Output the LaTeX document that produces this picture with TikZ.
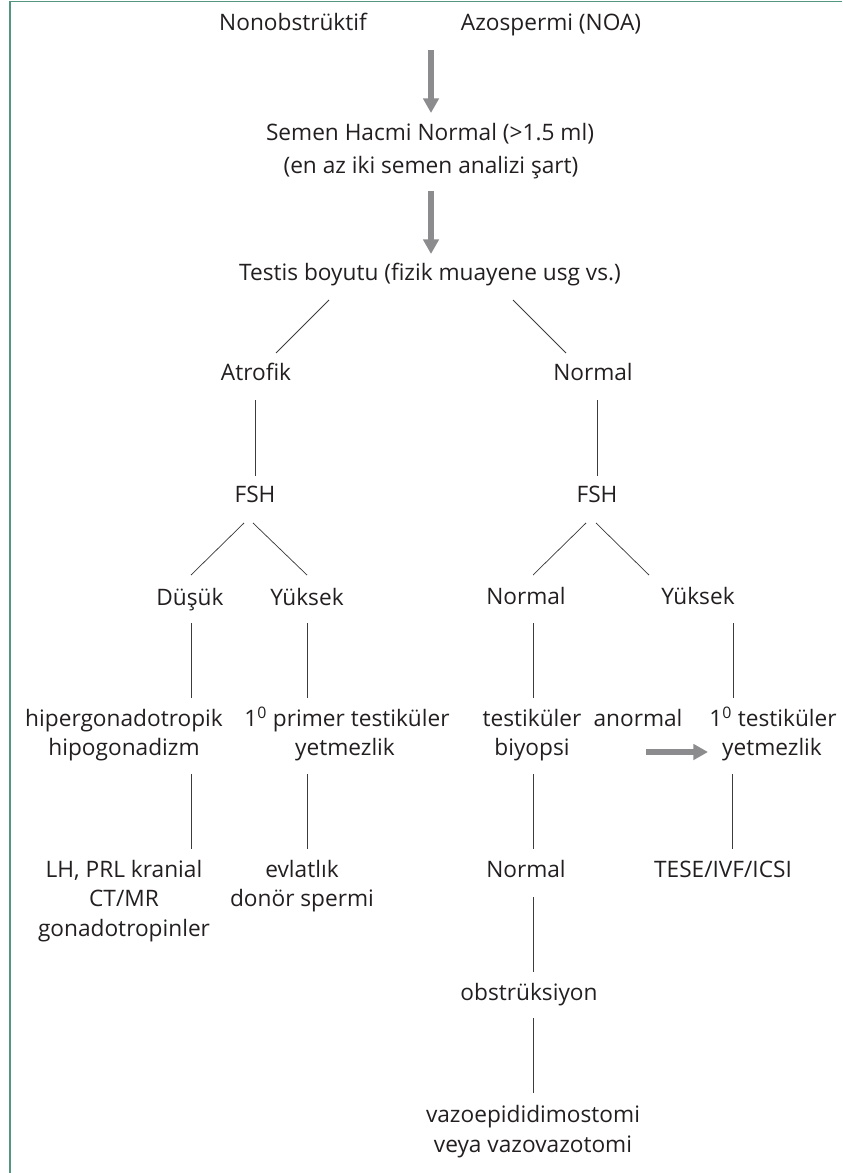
\documentclass[tikz,border=0pt]{standalone}
\usepackage{fontspec}
\setmainfont{Open Sans}
\usetikzlibrary{arrows.meta}
\definecolor{frameteal}{RGB}{82,150,128}
\definecolor{arrowgray}{RGB}{140,140,143}
\definecolor{linegray}{RGB}{60,60,60}
\definecolor{textcol}{RGB}{35,31,32}
\begin{document}
\begin{tikzpicture}[x=0.75pt,y=-0.75pt,
  lbl/.style={inner sep=0pt, anchor=mid, text=textcol, font=\fontsize{17}{20}\selectfont},
  conn/.style={draw=linegray, line width=0.55pt},
  bigarrow/.style={draw=arrowgray, line width=4.6pt, -{Triangle[length=11pt,width=11.5pt]}},
  frameline/.style={draw=frameteal, line width=1.3pt}]
\useasboundingbox (0,0) rectangle (842,1173);
\draw[frameline] (10,1173) -- (10,1.5) -- (842,1.5);

% top
\node[lbl] (nono) at (293,27) {Nonobstrüktif};
\node[lbl] (azo) at (551,27) {Azospermi (NOA)};
\coordinate (a1s) at (431,50);
\coordinate (a1e) at (431,113);
\draw[bigarrow] (a1s) -- (a1e);
\node[lbl] (semen) at (430,137) {Semen Hacmi Normal (>1.5 ml)};
\node[lbl] (semenb) at (431,170) {(en az iki semen analizi şart)};
\coordinate (a2s) at (431,191);
\coordinate (a2e) at (431,254);
\draw[bigarrow] (a2s) -- (a2e);
\node[lbl] (testis) at (430,277) {Testis boyutu (fizik muayene usg vs.)};

% level 2
\node[lbl] (atro) at (256,377) {Atrofik};
\node[lbl] (norm) at (593,377) {Normal};
\draw[conn] (329,300) coordinate (tl) -- (276,353) coordinate (atrotop);
\draw[conn] (513,300) coordinate (tr) -- (566,353) coordinate (normtop);

% FSH
\node[lbl] (fshL) at (255,499) {FSH};
\node[lbl] (fshR) at (597,499) {FSH};
\draw[conn] (255,400) coordinate (atrobot) -- (255,476) coordinate (fshLtop);
\draw[conn] (597,400) coordinate (normbot) -- (597,476) coordinate (fshRtop);

% level 4
\node[lbl] (dusuk) at (190,602) {Düşük};
\node[lbl] (yukL) at (307,602) {Yüksek};
\node[lbl] (normR) at (526,601) {Normal};
\node[lbl] (yukR) at (698,601) {Yüksek};
\draw[conn] (244,523) coordinate (fLa) -- (191,575) coordinate (dusuktop);
\draw[conn] (253,523) coordinate (fLb) -- (307,575) coordinate (yukLtop);
\draw[conn] (586,523) coordinate (fRa) -- (533,575) coordinate (normRtop);
\draw[conn] (596,523) coordinate (fRb) -- (649,575) coordinate (yukRtop);

% verticals to level 5
\draw[conn] (191,623) coordinate (d1) -- (191,698) coordinate (d2);
\draw[conn] (307,623) coordinate (y1) -- (307,698) coordinate (y2);
\draw[conn] (533,623) coordinate (n1) -- (533,698) coordinate (n2);
\draw[conn] (733,623) coordinate (r1) -- (733,698) coordinate (r2);

% level 5
\node[lbl] (hiper) at (124,723) {hipergonadotropik};
\node[lbl] (hipob) at (124,752) {hipogonadizm};
\node[lbl] (primer) at (347,723) {1\textsuperscript{0} primer testiküler};
\node[lbl] (primerb) at (345,752) {yetmezlik};
\node[lbl] (biyo) at (532,723) {testiküler};
\node[lbl] (biyob) at (532,752) {biyopsi};
\node[lbl] (anor) at (638,723) {anormal};
\node[lbl] (tyet) at (773,723) {1\textsuperscript{0} testiküler};
\node[lbl] (tyetb) at (772,752) {yetmezlik};
\coordinate (a3s) at (646,752);
\coordinate (a3e) at (708,752);
\draw[bigarrow] (a3s) -- (a3e);

% verticals to level 6
\draw[conn] (191,774) coordinate (e1) -- (191,849) coordinate (e2);
\draw[conn] (307,774) coordinate (f1) -- (307,849) coordinate (f2);
\draw[conn] (533,774) coordinate (g1) -- (533,849) coordinate (g2);
\draw[conn] (732,774) coordinate (h1) -- (732,849) coordinate (h2);

% level 6
\node[lbl] (lh) at (124,874) {LH, PRL kranial};
\node[lbl] (ct) at (124,903) {CT/MR};
\node[lbl] (gona) at (124,933) {gonadotropinler};
\node[lbl] (evl) at (302,874) {evlatlık};
\node[lbl] (donor) at (302,903) {donör spermi};
\node[lbl] (norm6) at (526,874) {Normal};
\node[lbl] (tese) at (723,874) {TESE/IVF/ICSI};

% lower chain
\draw[conn] (533,897) coordinate (i1) -- (533,972) coordinate (i2);
\node[lbl] (obs) at (529,997) {obstrüksiyon};
\draw[conn] (533,1018) coordinate (j1) -- (533,1093) coordinate (j2);
\node[lbl] (vazo) at (533,1119) {vazoepididimostomi};
\node[lbl] (vazob) at (533,1149) {veya vazovazotomi};
\end{tikzpicture}
\end{document}
